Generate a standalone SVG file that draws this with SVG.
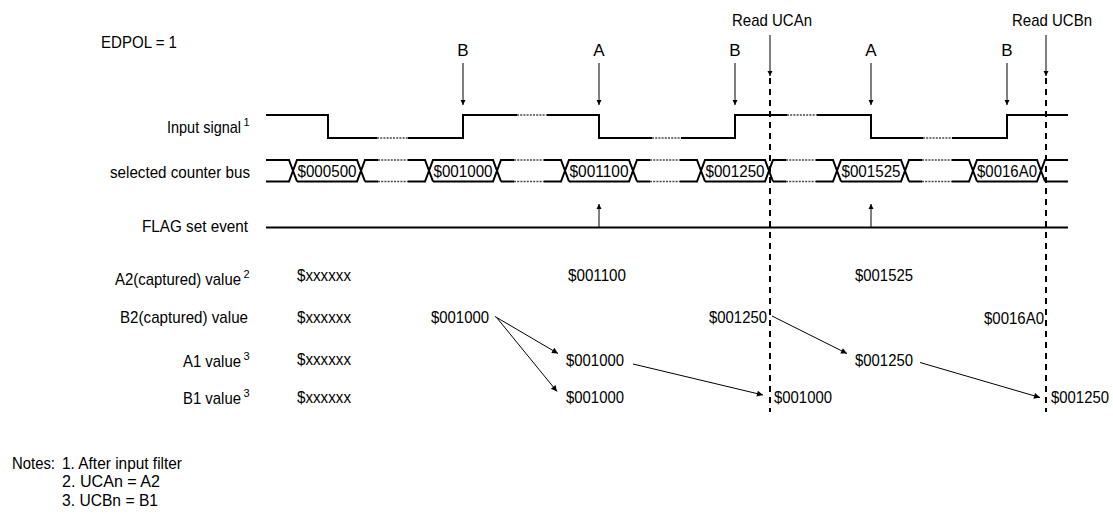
<svg xmlns="http://www.w3.org/2000/svg" width="1113" height="514" viewBox="0 0 1113 514">
<style>
text{font-family:"Liberation Sans",Arial,sans-serif;font-size:17px;fill:#000}
.mid{text-anchor:middle}
.sup{font-size:11px}
.sig{fill:none;stroke:#000;stroke-width:2}
.dot{fill:none;stroke:#444;stroke-width:1.5;stroke-dasharray:2 1.2}
.thin{fill:none;stroke:#000;stroke-width:1}
.dash{fill:none;stroke:#000;stroke-width:2;stroke-dasharray:6 5}
</style>
<defs>
<marker id="ah" viewBox="0 0 10 10" refX="10" refY="5" markerWidth="5" markerHeight="8" markerUnits="userSpaceOnUse" orient="auto"><path d="M0,0 L10,5 L0,10 z" fill="#000"/></marker>
<marker id="ah2" viewBox="0 0 10 10" refX="10" refY="5" markerWidth="11" markerHeight="6" markerUnits="userSpaceOnUse" orient="auto"><path d="M0,0 L10,5 L0,10 z" fill="#000"/></marker>
</defs>
<g id="title"><text x="101" y="48" textLength="76" lengthAdjust="spacingAndGlyphs">EDPOL = 1</text></g>
<g id="labels">
<text x="167" y="133" textLength="74" lengthAdjust="spacingAndGlyphs">Input signal</text><text class="sup" x="243.5" y="126">1</text>
<text x="110" y="178" textLength="140" lengthAdjust="spacingAndGlyphs">selected counter bus</text>
<text x="142" y="232" textLength="106" lengthAdjust="spacingAndGlyphs">FLAG set event</text>
<text x="115" y="285" textLength="126" lengthAdjust="spacingAndGlyphs">A2(captured) value</text><text class="sup" x="243.5" y="278">2</text>
<text x="120" y="323" textLength="128" lengthAdjust="spacingAndGlyphs">B2(captured) value</text>
<text x="183" y="367" textLength="58" lengthAdjust="spacingAndGlyphs">A1 value</text><text class="sup" x="243.5" y="360">3</text>
<text x="183" y="404" textLength="58" lengthAdjust="spacingAndGlyphs">B1 value</text><text class="sup" x="243.5" y="397">3</text>
</g>
<g id="top-labels">
<text class="mid" x="463" y="56">B</text>
<text class="mid" x="599" y="56">A</text>
<text class="mid" x="735" y="56">B</text>
<text class="mid" x="871" y="56">A</text>
<text class="mid" x="1007" y="56">B</text>
<text x="732" y="26" textLength="80" lengthAdjust="spacingAndGlyphs">Read UCAn</text>
<text x="1012" y="26" textLength="80" lengthAdjust="spacingAndGlyphs">Read UCBn</text>
</g>
<g id="input-signal">
<path class="sig" d="M266,115 H328 V138 H377 M408,138 H463 V115 H517 M547,115 H599 V138 H652 M681,138 H735 V115 H787 M817,115 H871 V138 H923 M952,138 H1007 V115 H1068"/>
<path class="dot" d="M377,138 H408 M517,115 H547 M652,138 H681 M787,115 H817 M923,138 H952"/>
</g>
<g id="counter-bus">
<path class="sig" d="M266,160 H289 L297,181.5 M266,181.5 H289 L297,160 H357 L365,181.5 M297,181.5 H357 L365,160 H378 M408,160 H425 L433,181.5 M365,181.5 H378 M408,181.5 H425 L433,160 H493 L501,181.5 M433,181.5 H493 L501,160 H514 M544,160 H561 L569,181.5 M501,181.5 H514 M544,181.5 H561 L569,160 H629 L637,181.5 M569,181.5 H629 L637,160 H650 M680,160 H697 L705,181.5 M637,181.5 H650 M680,181.5 H697 L705,160 H765 L773,181.5 M705,181.5 H765 L773,160 H786 M816,160 H833 L841,181.5 M773,181.5 H786 M816,181.5 H833 L841,160 H901 L909,181.5 M841,181.5 H901 L909,160 H922 M952,160 H969 L977,181.5 M909,181.5 H922 M952,181.5 H969 L977,160 H1037 L1045,181.5 M977,181.5 H1037 L1045,160 H1068 M1045,181.5 H1068"/>
<path class="dot" d="M378,160 H408 M378,181.5 H408 M514,160 H544 M514,181.5 H544 M650,160 H680 M650,181.5 H680 M786,160 H816 M786,181.5 H816 M922,160 H952 M922,181.5 H952"/>
<text x="297.5" y="177" textLength="59" lengthAdjust="spacingAndGlyphs">$000500</text>
<text x="433.5" y="177" textLength="59" lengthAdjust="spacingAndGlyphs">$001000</text>
<text x="569.5" y="177" textLength="59" lengthAdjust="spacingAndGlyphs">$001100</text>
<text x="705.5" y="177" textLength="59" lengthAdjust="spacingAndGlyphs">$001250</text>
<text x="841.5" y="177" textLength="59" lengthAdjust="spacingAndGlyphs">$001525</text>
<text x="977" y="177" textLength="60" lengthAdjust="spacingAndGlyphs">$0016A0</text>
</g>
<g id="flag">
<path class="sig" d="M266,227.5 H1068"/>
</g>
<g id="values">
<text x="297" y="281" textLength="54" lengthAdjust="spacingAndGlyphs">$xxxxxx</text>
<text x="297" y="323" textLength="54" lengthAdjust="spacingAndGlyphs">$xxxxxx</text>
<text x="297" y="365" textLength="54" lengthAdjust="spacingAndGlyphs">$xxxxxx</text>
<text x="297" y="403" textLength="54" lengthAdjust="spacingAndGlyphs">$xxxxxx</text>
<text x="568" y="281" textLength="58" lengthAdjust="spacingAndGlyphs">$001100</text>
<text x="855" y="281" textLength="58" lengthAdjust="spacingAndGlyphs">$001525</text>
<text x="431" y="323" textLength="58" lengthAdjust="spacingAndGlyphs">$001000</text>
<text x="709" y="323" textLength="58" lengthAdjust="spacingAndGlyphs">$001250</text>
<text x="984" y="324" textLength="60" lengthAdjust="spacingAndGlyphs">$0016A0</text>
<text x="566" y="366" textLength="58" lengthAdjust="spacingAndGlyphs">$001000</text>
<text x="855" y="366" textLength="58" lengthAdjust="spacingAndGlyphs">$001250</text>
<text x="566" y="403" textLength="58" lengthAdjust="spacingAndGlyphs">$001000</text>
<text x="774" y="403" textLength="58" lengthAdjust="spacingAndGlyphs">$001000</text>
<text x="1051" y="403" textLength="58" lengthAdjust="spacingAndGlyphs">$001250</text>
</g>
<g id="notes">
<text x="12" y="469" textLength="43" lengthAdjust="spacingAndGlyphs">Notes:</text><text x="62" y="469" textLength="120" lengthAdjust="spacingAndGlyphs">1. After input filter</text>
<text x="62" y="487" textLength="98" lengthAdjust="spacingAndGlyphs">2. UCAn = A2</text>
<text x="62" y="506" textLength="96" lengthAdjust="spacingAndGlyphs">3. UCBn = B1</text>
</g>
<g id="connectors">
<path class="thin" marker-end="url(#ah)" d="M463,63 V105"/>
<path class="thin" marker-end="url(#ah)" d="M599,63 V105"/>
<path class="thin" marker-end="url(#ah)" d="M735,63 V105"/>
<path class="thin" marker-end="url(#ah)" d="M871,63 V105"/>
<path class="thin" marker-end="url(#ah)" d="M1007,63 V105"/>
<path class="thin" marker-end="url(#ah)" d="M770,35 V76"/>
<path class="thin" marker-end="url(#ah)" d="M1046,35 V76"/>
<path class="dash" d="M770,78 V412"/>
<path class="dash" d="M1046,78 V412"/>
<path class="thin" marker-end="url(#ah)" d="M599,227 V204"/>
<path class="thin" marker-end="url(#ah)" d="M871,227 V204"/>
<path class="thin" marker-end="url(#ah2)" d="M495,316.5 L558,353.5"/>
<path class="thin" marker-end="url(#ah2)" d="M497,318 L557,391.5"/>
<path class="thin" marker-end="url(#ah2)" d="M633,364 L763,395"/>
<path class="thin" marker-end="url(#ah2)" d="M772,316 L847,353.5"/>
<path class="thin" marker-end="url(#ah2)" d="M920,362.5 L1040,397.5"/>
</g>
</svg>
